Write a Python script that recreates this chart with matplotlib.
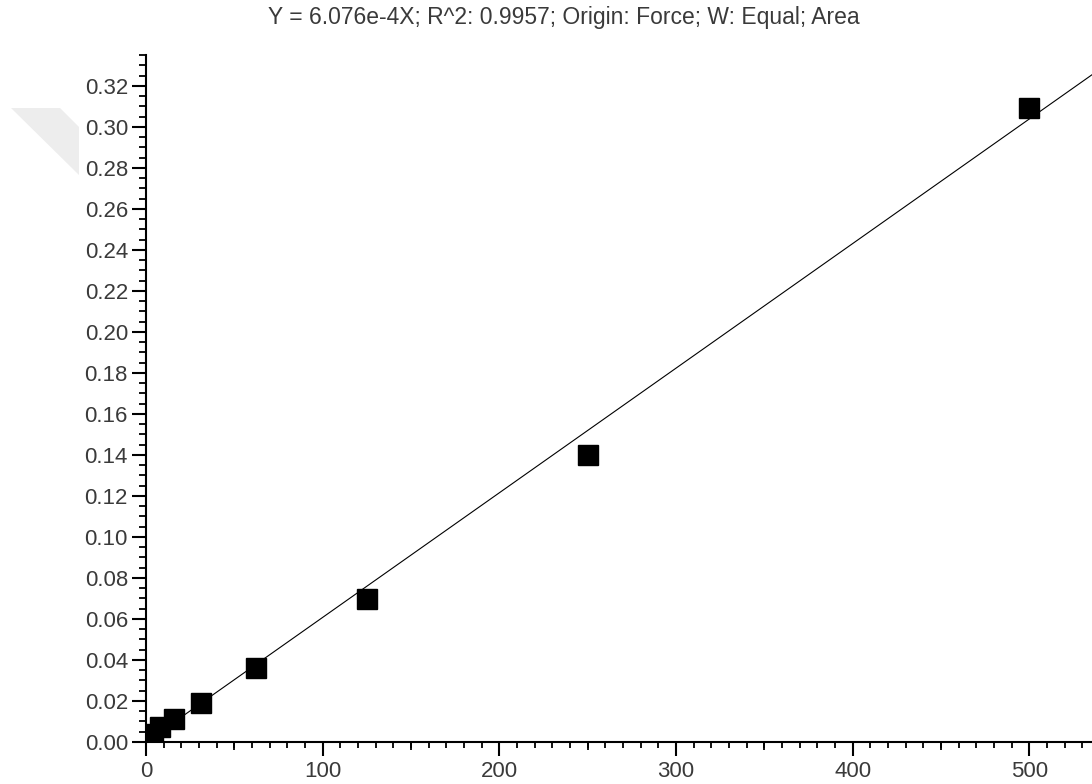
import numpy as np
import matplotlib
matplotlib.use("Agg")
import matplotlib.pyplot as plt
from matplotlib.ticker import MultipleLocator, FormatStrFormatter
from matplotlib.patches import Polygon

plt.rcParams['font.family'] = ['Liberation Sans', 'DejaVu Sans']

# standards (concentration) and measured areas
conc = [3.906, 7.8125, 15.625, 31.25, 62.5, 125, 250, 500]
area = [0.004, 0.0075, 0.0114, 0.0192, 0.0362, 0.0695, 0.140, 0.309]

slope = 6.076e-4
title = "Y = 6.076e-4X; R^2: 0.9957; Origin: Force; W: Equal; Area"
x_max = 535.5
y_max = 0.335

fig = plt.figure(figsize=(10.92, 7.84), dpi=100)
ax = fig.add_axes([146 / 1092, 1 - 742 / 784, 1 - 146 / 1092, (742 - 55) / 784])

# fitted line through origin
xs = np.array([0, x_max])
ax.plot(xs, slope * xs, color='black', lw=0.8)

# data points
ax.plot(conc, area, 's', color='black', markersize=14, clip_on=True)

ax.set_xlim(0, x_max)
ax.set_ylim(0, y_max)

for s in ['top', 'right']:
    ax.spines[s].set_visible(False)
for s in ['left', 'bottom']:
    ax.spines[s].set_linewidth(1.5)

ax.xaxis.set_major_locator(MultipleLocator(100))
ax.xaxis.set_minor_locator(MultipleLocator(10))
ax.yaxis.set_major_locator(MultipleLocator(0.02))
ax.yaxis.set_minor_locator(MultipleLocator(0.005))
ax.yaxis.set_major_formatter(FormatStrFormatter('%.2f'))

ax.tick_params(which='major', length=10, width=1.5, labelsize=16,
               labelcolor='#3a3a3a', direction='out')
ax.tick_params(axis='x', which='major', pad=4)
ax.tick_params(axis='y', which='major', pad=3)
ax.tick_params(which='minor', length=4, width=1.3, direction='out')
ax.tick_params(axis='y', which='minor', length=5)

# medium ticks at the 50s
sec = ax.secondary_xaxis('bottom')
sec.set_xticks([50, 150, 250, 350, 450])
sec.tick_params(length=6, width=1.3, labelbottom=False, direction='out')
sec.spines['bottom'].set_visible(False)

fig.text(0.516, 0.978, title, ha='center', va='center', fontsize=16.5, color='#3a3a3a')

# faint watermark shape at top left
pts = [(11, 108), (60, 108), (79, 127), (79, 175)]
wm = Polygon([(px / 1092, 1 - py / 784) for px, py in pts], closed=True,
             transform=fig.transFigure, facecolor='#ededed', edgecolor='none', zorder=-1)
fig.patches.append(wm)

fig.savefig("out.png", dpi=100)
